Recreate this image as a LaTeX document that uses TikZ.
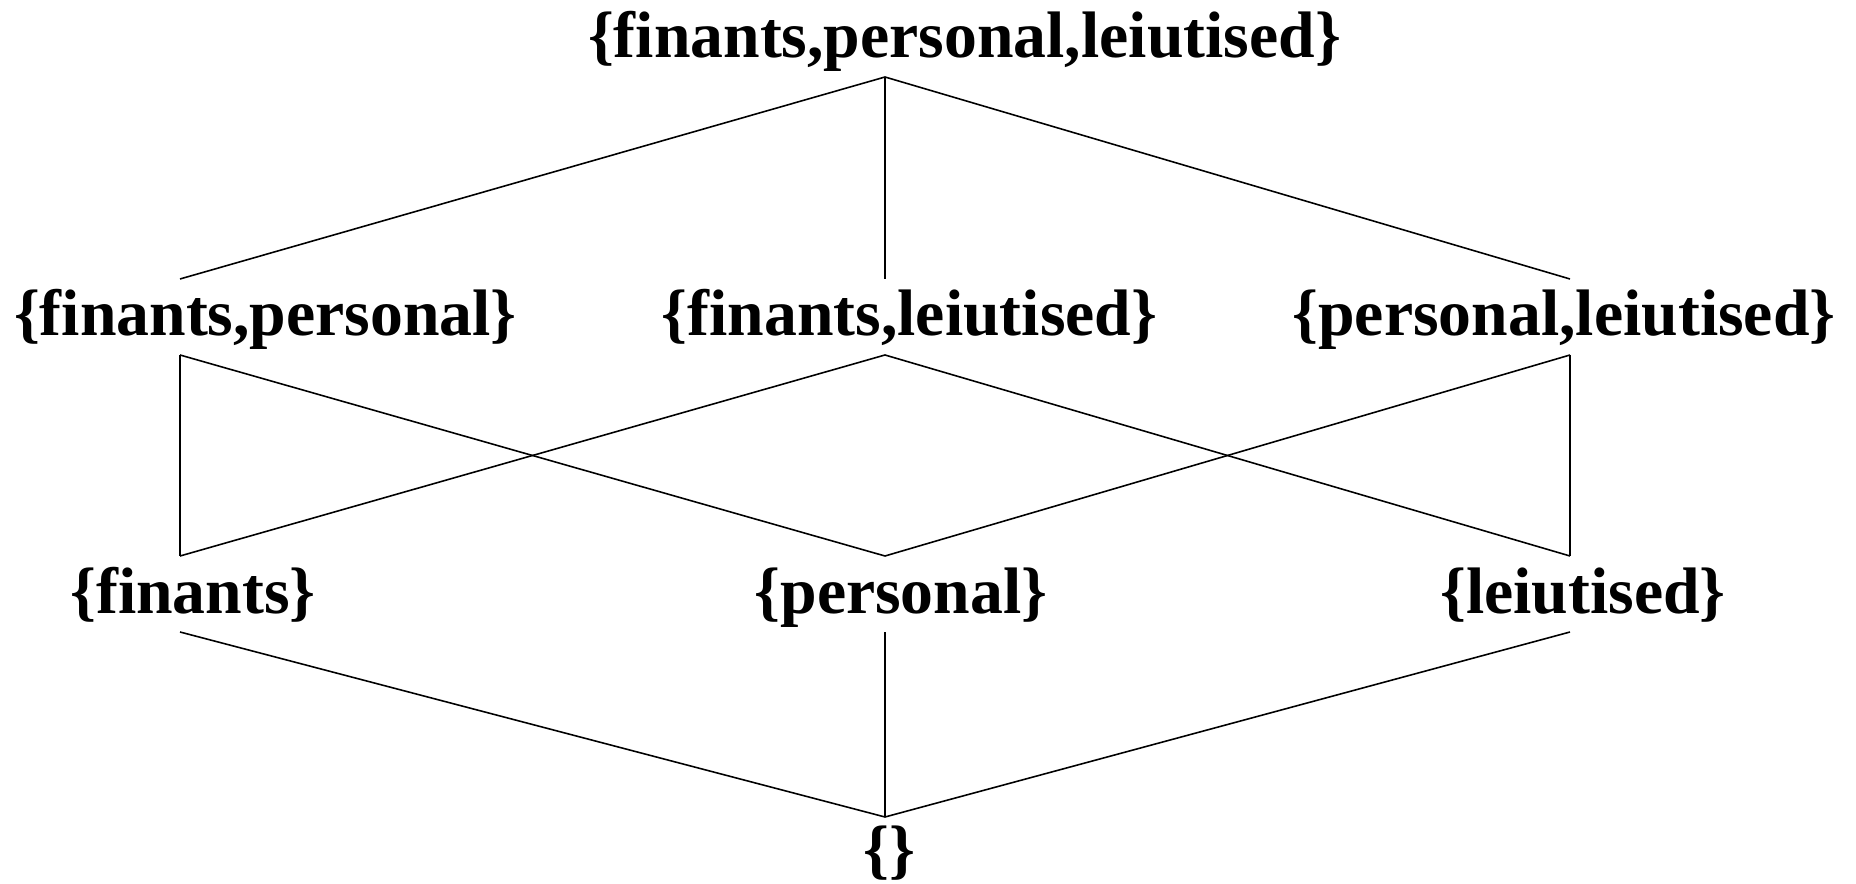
\documentclass[tikz,border=0pt]{standalone}
\usepackage{fontspec}
\setmainfont{Liberation Serif}

\begin{document}
\begin{tikzpicture}[set/.style={anchor=base, inner sep=0pt, font=\fontsize{18.7}{22}\selectfont\bfseries},
        edge/.style={line width=0.45pt}]
        \useasboundingbox (0, 0) rectangle (18.56, 8.83);
        % the sets
        \node[set] (fpl) at (9.645, 8.25) {\{finants,personal,leiutised\}};
        \node[set] (fp) at (2.655, 5.47) {\{finants,personal\}};
        \node[set] (fl) at (9.095, 5.47) {\{finants,leiutised\}};
        \node[set] (pl) at (15.64, 5.47) {\{personal,leiutised\}};
        \node[set] (f) at (1.93, 2.70) {\{finants\}};
        \node[set] (p) at (9.01, 2.70) {\{personal\}};
        \node[set] (l) at (15.83, 2.70) {\{leiutised\}};
        \node[set] (e) at (8.895, 0.12) {\{\}};
        % where the lines meet the sets
        \coordinate (fpl-s) at (8.85, 8.06);
        \coordinate (fp-n) at (1.80, 6.04);
        \coordinate (fl-n) at (8.85, 6.04);
        \coordinate (pl-n) at (15.70, 6.04);
        \coordinate (fp-s) at (1.80, 5.28);
        \coordinate (fl-s) at (8.85, 5.28);
        \coordinate (pl-s) at (15.70, 5.28);
        \coordinate (f-n) at (1.80, 3.27);
        \coordinate (p-n) at (8.85, 3.27);
        \coordinate (l-n) at (15.70, 3.27);
        \coordinate (f-s) at (1.80, 2.51);
        \coordinate (p-s) at (8.85, 2.51);
        \coordinate (l-s) at (15.70, 2.51);
        \coordinate (e-n) at (8.85, 0.66);
        \draw[edge] (fpl-s) -- (fp-n);
        \draw[edge] (fpl-s) -- (fl-n);
        \draw[edge] (fpl-s) -- (pl-n);
        \draw[edge] (fp-s) -- (f-n);
        \draw[edge] (fp-s) -- (p-n);
        \draw[edge] (fl-s) -- (f-n);
        \draw[edge] (fl-s) -- (l-n);
        \draw[edge] (pl-s) -- (p-n);
        \draw[edge] (pl-s) -- (l-n);
        \draw[edge] (f-s) -- (e-n);
        \draw[edge] (p-s) -- (e-n);
        \draw[edge] (l-s) -- (e-n);
    \end{tikzpicture}
\end{document}
